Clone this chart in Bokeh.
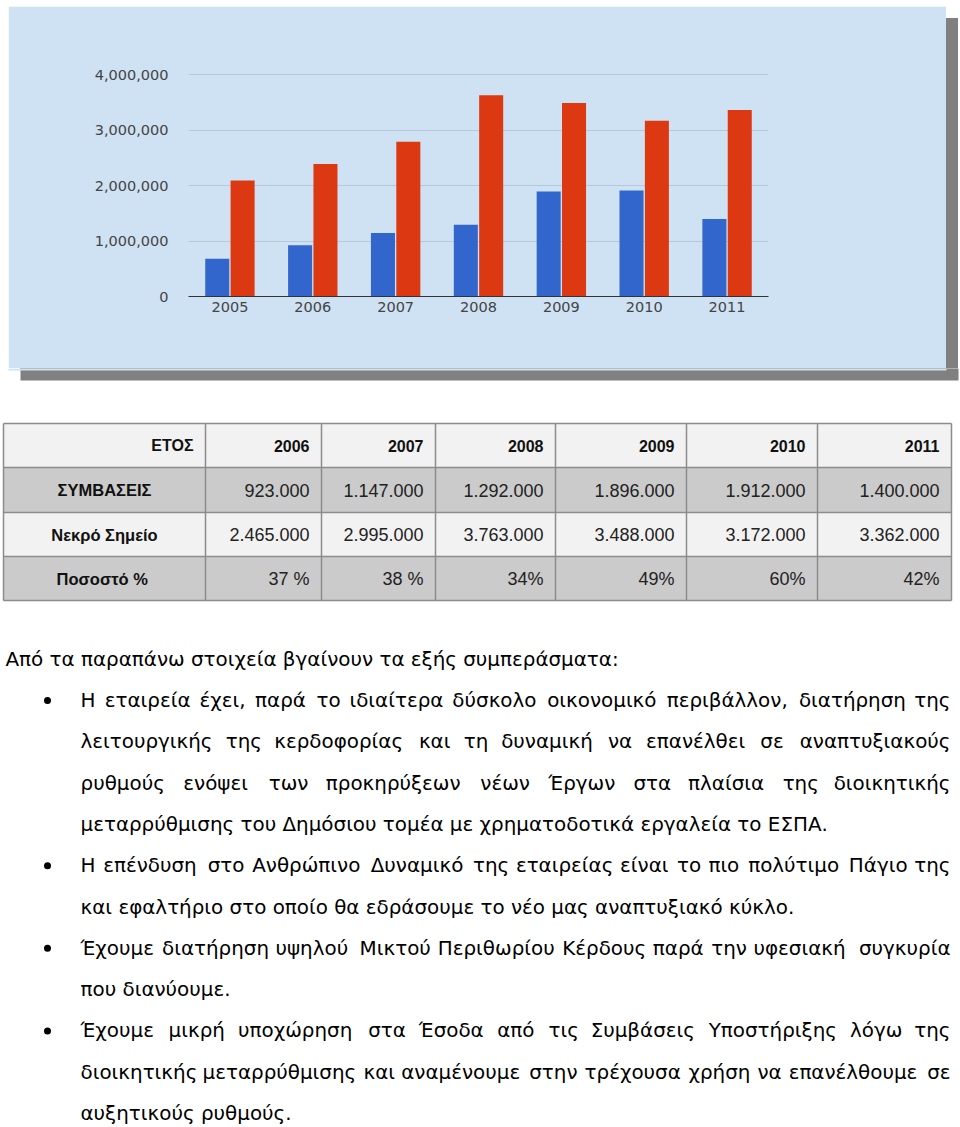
from bokeh.plotting import figure
from bokeh.models import ColumnDataSource, FactorRange, Range1d, FixedTicker, NumeralTickFormatter
from bokeh.layouts import column
from bokeh.transform import dodge
from bokeh.core.properties import value
from bokeh.embed import file_html
from bokeh.resources import INLINE

# ---------------- data ----------------
years = ["2005", "2006", "2007", "2008", "2009", "2010", "2011"]
contracts = [680000, 923000, 1147000, 1292000, 1896000, 1912000, 1400000]
breakeven = [2090000, 2390000, 2790000, 3630000, 3488000, 3172000, 3362000]
y_ticks = [0, 1000000, 2000000, 3000000, 4000000]

tbl_header = "ΕΤΟΣ"
tbl_years = ["2006", "2007", "2008", "2009", "2010", "2011"]
tbl_row_labels = ["ΣΥΜΒΑΣΕΙΣ", "Νεκρό Σημείο", "Ποσοστό  %"]
tbl_contracts = ["923.000", "1.147.000", "1.292.000", "1.896.000", "1.912.000", "1.400.000"]
tbl_breakeven = ["2.465.000", "2.995.000", "3.763.000", "3.488.000", "3.172.000", "3.362.000"]
tbl_percent = ["37 %", "38 %", "34%", "49%", "60%", "42%"]

intro_text = "Από τα παραπάνω στοιχεία βγαίνουν τα εξής συμπεράσματα:"
bullet_lines = [
    [("Η εταιρεία έχει, παρά το ιδιαίτερα δύσκολο οικονομικό περιβάλλον, διατήρηση της", True),
     ("λειτουργικής της κερδοφορίας και τη δυναμική να επανέλθει σε αναπτυξιακούς", True),
     ("ρυθμούς ενόψει των προκηρύξεων νέων Έργων στα πλαίσια της διοικητικής", True),
     ("μεταρρύθμισης του Δημόσιου τομέα με χρηματοδοτικά εργαλεία το ΕΣΠΑ.", False)],
    [("Η επένδυση στο Ανθρώπινο Δυναμικό της εταιρείας είναι το πιο πολύτιμο Πάγιο της", True),
     ("και εφαλτήριο στο οποίο θα εδράσουμε το νέο μας αναπτυξιακό κύκλο.", False)],
    [("Έχουμε διατήρηση υψηλού Μικτού Περιθωρίου Κέρδους παρά την υφεσιακή συγκυρία", True),
     ("που διανύουμε.", False)],
    [("Έχουμε μικρή υποχώρηση στα Έσοδα από τις Συμβάσεις Υποστήριξης λόγω της", True),
     ("διοικητικής μεταρρύθμισης και αναμένουμε στην τρέχουσα χρήση να επανέλθουμε σε", True),
     ("αυξητικούς ρυθμούς.", False)],
]

# ---------------- chart ----------------
PANEL = "#cfe2f3"
SHADOW = "#808080"
BLUE = "#3366cc"
RED = "#dc3912"

src = ColumnDataSource(dict(year=years, contracts=contracts, breakeven=breakeven))

chart = figure(x_range=FactorRange(*years), y_range=Range1d(0, 4040000),
               width=938, height=362, output_backend="svg", toolbar_location=None,
               min_border_left=180, min_border_right=178, min_border_top=66, min_border_bottom=72,
               background_fill_color=PANEL, border_fill_color=PANEL,
               outline_line_color=PANEL, outline_line_width=1.5,
               frame_align=False, margin=(6, 0, 0, 8),
               styles={"box-shadow": "12px 12px 0px 0px " + SHADOW})

chart.vbar(x=dodge("year", -0.153, range=chart.x_range), top="contracts", width=0.29,
           source=src, fill_color=BLUE, line_color=None)
chart.vbar(x=dodge("year", 0.153, range=chart.x_range), top="breakeven", width=0.29,
           source=src, fill_color=RED, line_color=None)

chart.xgrid.grid_line_color = None
chart.ygrid.grid_line_color = "#b5c7d8"
chart.ygrid.grid_line_width = 1

chart.yaxis.ticker = FixedTicker(ticks=y_ticks)
chart.yaxis.formatter = NumeralTickFormatter(format="0,0")
chart.yaxis.axis_line_color = None
chart.yaxis.major_tick_line_color = None
chart.yaxis.minor_tick_line_color = None
chart.yaxis.major_tick_in = 0
chart.yaxis.major_tick_out = 0
chart.yaxis.major_label_standoff = 20

chart.xaxis.axis_line_color = "#333333"
chart.xaxis.axis_line_width = 1
chart.xaxis.major_tick_line_color = None
chart.xaxis.major_tick_in = 0
chart.xaxis.major_tick_out = 0
chart.xaxis.major_label_standoff = 5

for ax in (chart.xaxis, chart.yaxis):
    ax.major_label_text_font = "DejaVu Sans"
    ax.major_label_text_font_size = "14.5px"
    ax.major_label_text_color = "#444444"

# ---------------- body (table + text) ----------------
TOP = 368
BOTTOM = 1126
body = figure(x_range=Range1d(0, 960), y_range=Range1d(BOTTOM, TOP),
              width=960, height=BOTTOM - TOP, output_backend="svg", toolbar_location=None,
              x_axis_location=None, y_axis_location=None, frame_align=False,
              min_border_left=0, min_border_right=0, min_border_top=0, min_border_bottom=0,
              background_fill_color="white", border_fill_color="white", outline_line_color=None)
body.xgrid.grid_line_color = None
body.ygrid.grid_line_color = None

# lower part of the chart panel's drop shadow
body.quad(left=[20], right=[958], top=[TOP], bottom=[380], fill_color=SHADOW, line_color=None)
body.quad(left=[8], right=[946], top=[TOP], bottom=[370], fill_color=PANEL, line_color=None)

col_edges = [3, 205, 321, 435, 555, 686, 817, 951]
row_edges = [423, 467, 512, 556, 600]
row_fills = ["#f2f2f2", "#cbcbcb", "#f2f2f2", "#cbcbcb"]
PAD = 12

body.quad(left=[col_edges[0]] * 4, right=[col_edges[-1]] * 4,
          top=row_edges[:-1], bottom=row_edges[1:], fill_color=row_fills, line_color=None)
body.segment(x0=col_edges, x1=col_edges, y0=[row_edges[0]] * len(col_edges),
             y1=[row_edges[-1]] * len(col_edges), line_color="#8c8c8c", line_width=1.5)
body.segment(x0=[col_edges[0]] * len(row_edges), x1=[col_edges[-1]] * len(row_edges),
             y0=row_edges, y1=row_edges, line_color="#8c8c8c", line_width=1.5)

row_mid = [(row_edges[i] + row_edges[i + 1]) / 2 for i in range(4)]
val_right = [c - PAD for c in col_edges[2:]]

body.text(x=[col_edges[1] - PAD] + val_right, y=[row_mid[0]] * 7, text=[tbl_header] + tbl_years,
          text_align="right", text_baseline="middle", text_font=value("Liberation Sans"),
          text_font_style="bold", text_font_size="16px", text_color="#111111")
body.text(x=[(col_edges[0] + col_edges[1]) / 2] * 3, y=row_mid[1:], text=tbl_row_labels,
          text_align="center", text_baseline="middle", text_font=value("Liberation Sans"),
          text_font_style="bold", text_font_size="16.5px", text_color="#111111")
vals = tbl_contracts + tbl_breakeven + tbl_percent
body.text(x=val_right * 3, y=[row_mid[1]] * 6 + [row_mid[2]] * 6 + [row_mid[3]] * 6, text=vals,
          text_align="right", text_baseline="middle", text_font=value("Liberation Sans"),
          text_font_size="18px", text_color="#222222")

# ---- paragraph text ----
FS = 19.9
EM = {
    ' ': 0.318, '.': 0.318, ',': 0.318, ':': 0.337,
    'α': 0.659, 'ά': 0.659, 'β': 0.638, 'γ': 0.592, 'δ': 0.612, 'ε': 0.541, 'έ': 0.541,
    'ζ': 0.540, 'η': 0.634, 'ή': 0.634, 'θ': 0.612, 'ι': 0.338, 'ί': 0.338, 'ϊ': 0.338,
    'κ': 0.589, 'λ': 0.592, 'μ': 0.647, 'ν': 0.592, 'ξ': 0.540, 'ο': 0.612, 'ό': 0.612,
    'π': 0.659, 'ρ': 0.638, 'σ': 0.654, 'ς': 0.550, 'τ': 0.583, 'υ': 0.628, 'ύ': 0.628,
    'φ': 0.815, 'χ': 0.592, 'ψ': 0.815, 'ω': 0.843, 'ώ': 0.843,
    'Α': 0.684, 'Ά': 0.72, 'Β': 0.686, 'Γ': 0.557, 'Δ': 0.684, 'Ε': 0.632, 'Έ': 0.76,
    'Η': 0.752, 'Ι': 0.295, 'Κ': 0.656, 'Μ': 0.863, 'Ν': 0.748, 'Π': 0.752, 'Σ': 0.632,
    'Τ': 0.611, 'Υ': 0.611,
}


def tw(s):
    return sum(EM.get(ch, 0.6) for ch in s) * FS


TEXT_LEFT = 80
TEXT_RIGHT = 950
line_gap = 41.3
first_y = 700

left_x, left_y, left_t = [5], [659], [intro_text]
right_x, right_y, right_t = [], [], []
bullet_y = []
yy = first_y
for para in bullet_lines:
    bullet_y.append(yy)
    for line, justify in para:
        words = line.split(" ")
        if justify and len(words) > 1:
            widths = [tw(w) for w in words]
            gap = (TEXT_RIGHT - TEXT_LEFT - sum(widths)) / (len(words) - 1)
            if gap < 0.5 * EM[' '] * FS:
                left_x.append(TEXT_LEFT); left_y.append(yy); left_t.append(line)
            else:
                x = TEXT_LEFT
                for w, wd in zip(words[:-1], widths[:-1]):
                    left_x.append(x); left_y.append(yy); left_t.append(w)
                    x += wd + gap
                right_x.append(TEXT_RIGHT); right_y.append(yy); right_t.append(words[-1])
        else:
            left_x.append(TEXT_LEFT); left_y.append(yy); left_t.append(line)
        yy += line_gap

body.text(x=left_x, y=left_y, text=left_t, text_align="left", text_baseline="middle",
          text_font=value("DejaVu Sans"), text_font_size=f"{FS}px", text_color="#000000")
body.text(x=right_x, y=right_y, text=right_t, text_align="right", text_baseline="middle",
          text_font=value("DejaVu Sans"), text_font_size=f"{FS}px", text_color="#000000")
body.scatter(x=[47] * len(bullet_y), y=bullet_y, size=7, marker="circle",
             fill_color="black", line_color=None)

layout = column(chart, body, spacing=0)
open("out.html", "w").write(file_html(layout, INLINE))
